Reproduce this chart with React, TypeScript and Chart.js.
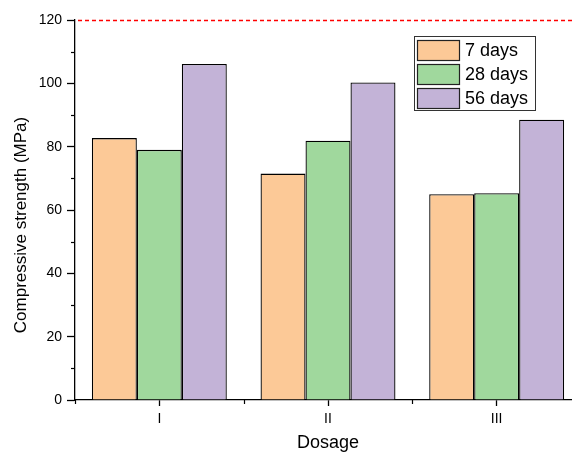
import React, { useEffect, useRef } from "react";
import { Chart, registerables } from "chart.js";

Chart.register(...registerables);

// Dosage groups and compressive strength (MPa) by curing age
const categories = ["I", "II", "III"];
const seriesLabels = ["7 days", "28 days", "56 days"];
const strength7 = [82.7, 71.5, 65.0];
const strength28 = [79.0, 81.9, 65.3];
const strength56 = [106.1, 100.3, 88.5];
const seriesColors = ["#FCC997", "#A0D89D", "#C3B3D7"];
const referenceStrength = 120;
const yMin = 0;
const yMax = 120;
const yStep = 20;
const yTitle = "Compressive strength (MPa)";

const FONT = "'Liberation Sans', Arial, Helvetica, sans-serif";

// Minor ticks, y title, dashed reference line and boxed legend
const decorations = {
  id: "decorations",
  afterDatasetsDraw(chart: any) {
    const { ctx, chartArea, scales } = chart;
    const x = scales.x;
    const y = scales.y;
    ctx.save();

    // dashed reference line
    const yRef = Math.round(y.getPixelForValue(referenceStrength)) + 0.5;
    ctx.strokeStyle = "#FF0000";
    ctx.lineWidth = 1.5;
    ctx.setLineDash([4, 3]);
    ctx.beginPath();
    ctx.moveTo(chartArea.left + 3, yRef);
    ctx.lineTo(chartArea.right, yRef);
    ctx.stroke();
    ctx.setLineDash([]);

    // minor ticks on y
    ctx.strokeStyle = "#000";
    ctx.lineWidth = 1.2;
    for (let v = yMin + yStep / 2; v < yMax; v += yStep) {
      const py = Math.round(y.getPixelForValue(v)) + 0.5;
      ctx.beginPath();
      ctx.moveTo(chartArea.left - 4, py);
      ctx.lineTo(chartArea.left, py);
      ctx.stroke();
    }
    // minor ticks on x at group boundaries
    const n = categories.length;
    const step = (x.getPixelForValue(n - 1) - x.getPixelForValue(0)) / (n - 1);
    for (let i = 0; i <= n; i++) {
      const px = Math.round(x.getPixelForValue(0) - step / 2 + i * step) + 0.5;
      ctx.beginPath();
      ctx.moveTo(px, chartArea.bottom);
      ctx.lineTo(px, chartArea.bottom + 4);
      ctx.stroke();
    }

    // y-axis title
    ctx.save();
    ctx.translate(21, 225);
    ctx.rotate(-Math.PI / 2);
    ctx.font = `17px ${FONT}`;
    ctx.fillStyle = "#000";
    ctx.textAlign = "center";
    ctx.textBaseline = "middle";
    ctx.fillText(yTitle, 0, 0);
    ctx.restore();

    // legend
    const lx = 414.5;
    const ly = 36.5;
    const lw = 121;
    const lh = 74;
    ctx.fillStyle = "#fff";
    ctx.fillRect(lx, ly, lw, lh);
    ctx.strokeStyle = "#333";
    ctx.lineWidth = 1;
    ctx.strokeRect(lx, ly, lw, lh);
    ctx.font = `18px ${FONT}`;
    ctx.textBaseline = "middle";
    ctx.textAlign = "left";
    chart.data.datasets.forEach((ds: any, i: number) => {
      const sy = 40 + i * 24;
      ctx.fillStyle = ds.backgroundColor;
      ctx.fillRect(417, sy, 43, 21);
      ctx.strokeStyle = "#222";
      ctx.lineWidth = 1.2;
      ctx.strokeRect(417.5, sy + 0.5, 42, 20);
      ctx.fillStyle = "#000";
      ctx.fillText(ds.label, 465, sy + 11);
    });

    ctx.restore();
  },
};

export default function App() {
  const canvasRef = useRef<HTMLCanvasElement | null>(null);

  useEffect(() => {
    if (!canvasRef.current) return;
    const series = [strength7, strength28, strength56];
    const chart = new Chart(canvasRef.current, {
      type: "bar",
      data: {
        labels: categories,
        datasets: series.map((values, i) => ({
          label: seriesLabels[i],
          data: values,
          backgroundColor: seriesColors[i],
          borderColor: "#000",
          borderWidth: 1.3,
          categoryPercentage: 0.8,
          barPercentage: 1.0,
        })),
      },
      options: {
        responsive: false,
        animation: false,
        devicePixelRatio: 1,
        layout: { padding: { top: 20, right: 9, left: 0, bottom: 0 } },
        plugins: {
          legend: { display: false },
          tooltip: { enabled: false },
        },
        scales: {
          x: {
            type: "category",
            offset: true,
            grid: {
              display: true,
              offset: false,
              drawOnChartArea: false,
              drawTicks: true,
              tickLength: 6,
              tickColor: "#000",
              tickWidth: 1.3,
            },
            border: { display: true, color: "#000", width: 1.3 },
            ticks: {
              color: "#000",
              font: { family: FONT, size: 14 },
              padding: 5,
            },
            title: {
              display: true,
              text: "Dosage",
              color: "#000",
              font: { family: FONT, size: 18 },
              padding: { top: 0, bottom: 1 },
            },
            afterFit: (scale: any) => {
              scale.height = 55;
            },
          },
          y: {
            min: yMin,
            max: yMax,
            ticks: {
              stepSize: yStep,
              color: "#000",
              font: { family: FONT, size: 14 },
              padding: 5,
            },
            grid: {
              display: true,
              drawOnChartArea: false,
              drawTicks: true,
              tickLength: 8,
              tickColor: "#000",
              tickWidth: 1.3,
            },
            border: { display: true, color: "#000", width: 1.3 },
            title: { display: false },
            afterFit: (scale: any) => {
              scale.width = 75;
            },
          },
        },
      },
      plugins: [decorations],
    });
    return () => chart.destroy();
  }, []);

  return (
    <div
      style={{
        position: "fixed",
        left: 0,
        top: 0,
        width: 572,
        height: 455,
        overflow: "hidden",
        background: "#fff",
      }}
    >
      <canvas ref={canvasRef} width={590} height={455} style={{ display: "block" }} />
    </div>
  );
}
